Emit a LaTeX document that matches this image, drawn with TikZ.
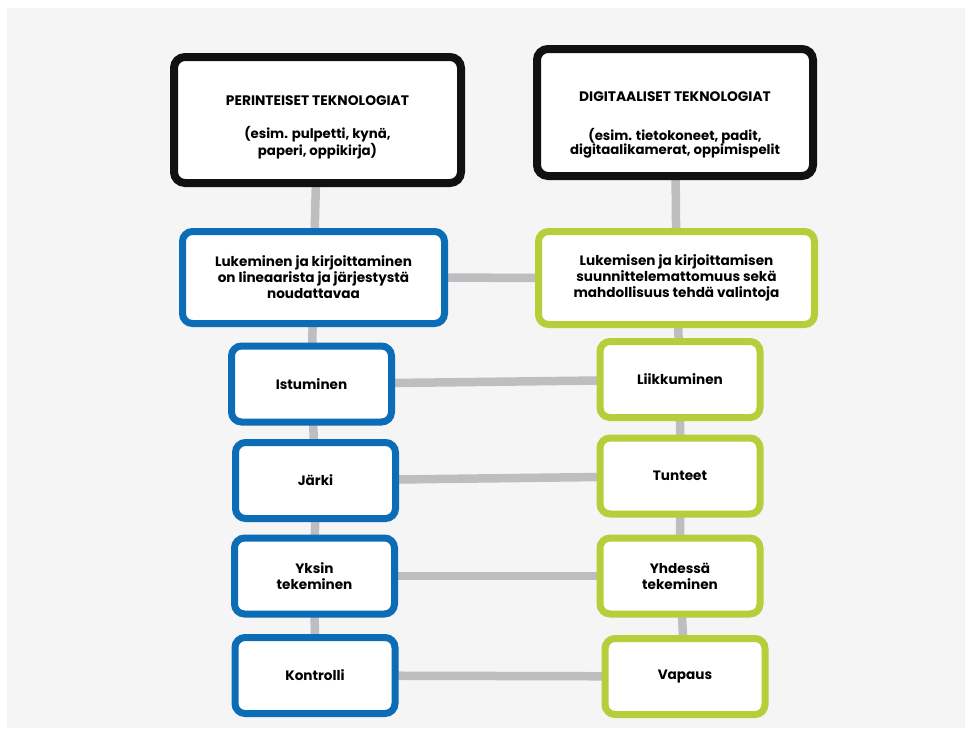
\documentclass[tikz,border=0pt]{standalone}
\usepackage{fontspec}
\setmainfont{Poppins}
\begin{document}
\begin{tikzpicture}[x=1pt,y=-1pt,
  every node/.style={font=\bfseries\fontsize{13.6}{16}\selectfont, text=black, align=center},
  headbox/.style={draw=headcol, line width=8pt, fill=white, rounded corners=11pt, inner sep=0pt,
    font=\bfseries\fontsize{13.3}{14.5}\selectfont},
  bluebox/.style={draw=bluecol, line width=7pt, fill=white, rounded corners=10pt, inner sep=0pt},
  greenbox/.style={draw=greencol, line width=7pt, fill=white, rounded corners=10pt, inner sep=0pt},
  smallbox/.style={minimum width=160pt, minimum height=76pt},
  link/.style={draw=linkcol, line width=8.5pt}
]
\definecolor{headcol}{HTML}{111111}
\definecolor{bluecol}{HTML}{0B6DB5}
\definecolor{greencol}{HTML}{B6CE3A}
\definecolor{linkcol}{HTML}{BEBEC1}
\definecolor{bgcol}{HTML}{F5F5F5}
\useasboundingbox (0,0) rectangle (965,728);
\fill[bgcol] (7,8) rectangle (965,728);

% connectors first (centre to centre, hidden by box fills)
\coordinate (cL0) at (317.5,120);
\coordinate (cR0) at (675,112.5);
\coordinate (cL1) at (313.5,277.5);
\coordinate (cR1) at (676.5,278);
\coordinate (cL2) at (311.5,384);
\coordinate (cR2) at (680,379.5);
\coordinate (cL3) at (315.5,480.5);
\coordinate (cR3) at (680,476);
\coordinate (cL4) at (314.5,576);
\coordinate (cR4) at (680,576);
\coordinate (cL5) at (315,675.5);
\coordinate (cR5) at (685,676.5);

\path[link] (cL0) -- (cL1) -- (cL2) -- (cL3) -- (cL4) -- (cL5);
\path[link] (cR0) -- (cR1) -- (cR2) -- (cR3) -- (cR4) -- (cR5);
\path[link] (cL1) -- (cR1);
\path[link] (cL2) -- (cR2);
\path[link] (cL3) -- (cR3);
\path[link] (cL4) -- (cR4);
\path[link] (cL5) -- (cR5);

\node[headbox, minimum width=287pt, minimum height=126pt] (hL) at (cL0)
  {\rule{0pt}{24pt}{\fontsize{13.8}{14.5}\selectfont PERINTEISET TEKNOLOGIAT}\\[18.5pt](esim. pulpetti, kynä,\\paperi, oppikirja)};
\node[headbox, minimum width=276pt, minimum height=127pt] (hR) at (cR0)
  {\rule{0pt}{35pt}{\fontsize{13.8}{14.5}\selectfont DIGITAALISET TEKNOLOGIAT}\\[24.5pt](esim. tietokoneet, padit,\\digitaalikamerat, oppimispelit};

\node[bluebox, minimum width=262pt, minimum height=92pt] (b1) at (cL1)
  {Lukeminen ja kirjoittaminen\\on lineaarista ja järjestystä\\noudattavaa};
\node[greenbox, minimum width=276pt, minimum height=93pt] (g1) at (cR1)
  {Lukemisen ja kirjoittamisen\\suunnittelemattomuus sekä\\mahdollisuus tehdä valintoja};

\node[bluebox, smallbox] (b2) at (cL2) {Istuminen};
\node[greenbox, smallbox] (g2) at (cR2) {Liikkuminen};
\node[bluebox, smallbox] (b3) at (cL3) {Järki};
\node[greenbox, smallbox] (g3) at (cR3) {Tunteet};
\node[bluebox, smallbox] (b4) at (cL4) {Yksin\\tekeminen};
\node[greenbox, smallbox] (g4) at (cR4) {Yhdessä\\tekeminen};
\node[bluebox, smallbox] (b5) at (cL5) {Kontrolli};
\node[greenbox, smallbox] (g5) at (cR5) {Vapaus};
\end{tikzpicture}
\end{document}
